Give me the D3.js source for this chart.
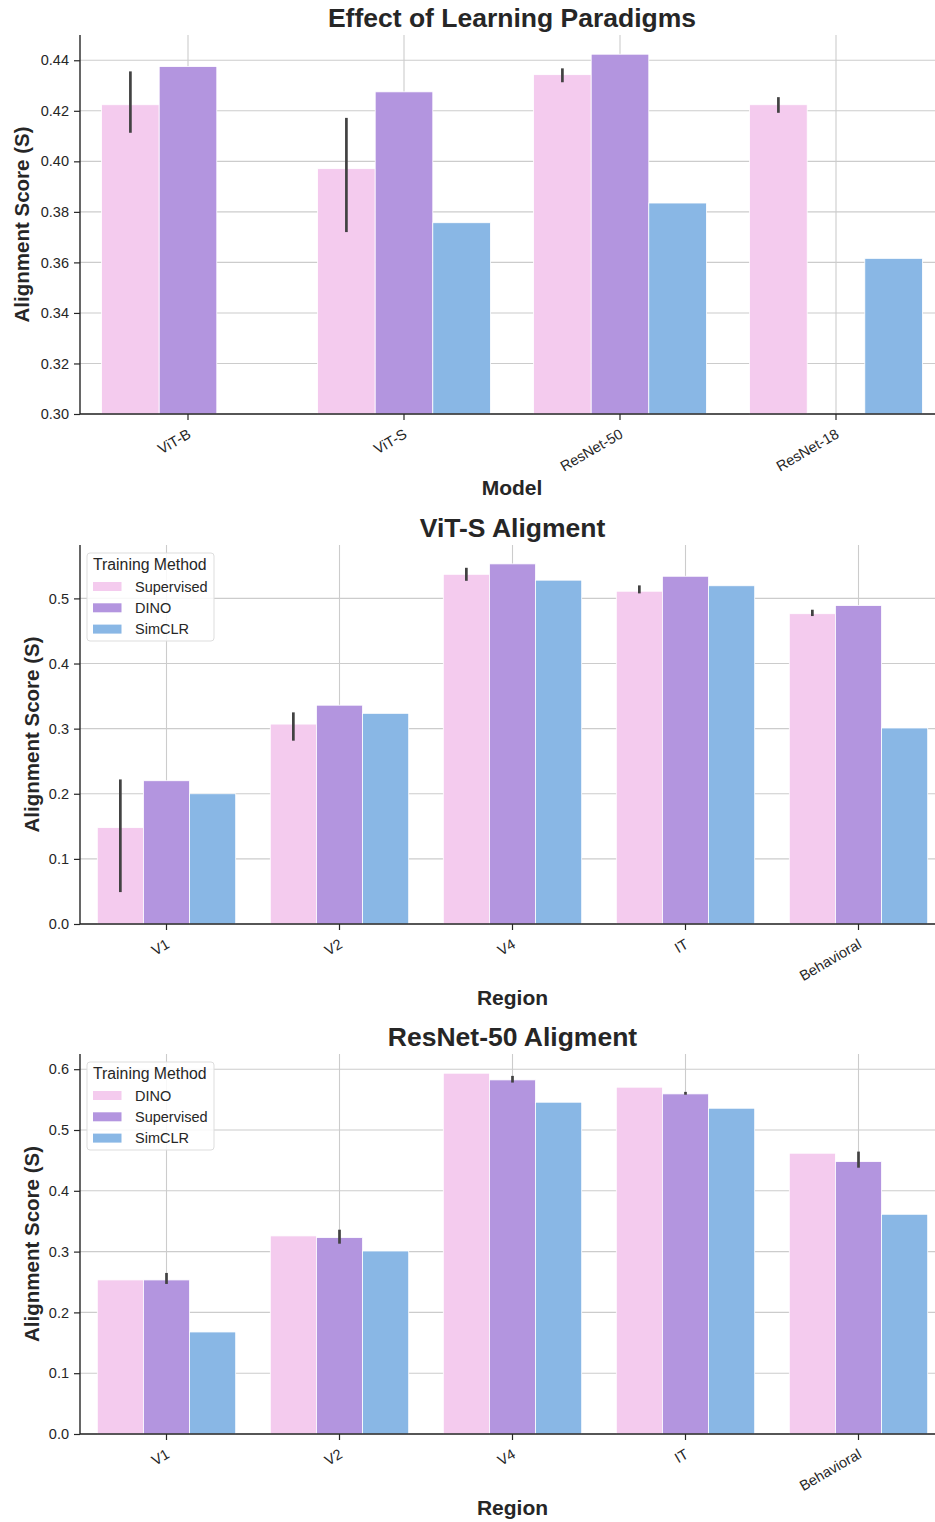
<!DOCTYPE html>
<html>
<head>
<meta charset="utf-8">
<script src="https://cdn.jsdelivr.net/npm/d3@7"></script>
<style>
  html, body { margin: 0; padding: 0; background: #fff; }
  svg { display: block; font-family: "Liberation Sans", Arial, sans-serif; }
</style>
</head>
<body>
<svg id="fig" width="935" height="1522"></svg>
<script>
// ---------- Data ----------
const models = ["ViT-B", "ViT-S", "ResNet-50", "ResNet-18"];
const methods1 = ["Supervised", "DINO", "SimCLR"];
const p1Supervised = [0.4224, 0.3971, 0.4343, 0.4224];
const p1SupErrLow  = [0.4113, 0.3720, 0.4313, 0.4192];
const p1SupErrHigh = [0.4356, 0.4172, 0.4368, 0.4254];
const p1DINO       = [0.4375, 0.4275, 0.4424, null];
const p1SimCLR     = [null, 0.3757, 0.3835, 0.3616];
const p1Ticks = [0.30, 0.32, 0.34, 0.36, 0.38, 0.40, 0.42, 0.44];

const regions = ["V1", "V2", "V4", "IT", "Behavioral"];
const methods2 = ["Supervised", "DINO", "SimCLR"];
const vitsSupervised = [0.148, 0.307, 0.537, 0.511, 0.4765];
const vitsSupErrLow  = [0.049, 0.2815, 0.527, 0.5077, 0.4729];
const vitsSupErrHigh = [0.222, 0.325, 0.547, 0.520, 0.4826];
const vitsDINO       = [0.220, 0.336, 0.553, 0.534, 0.489];
const vitsSimCLR     = [0.200, 0.3235, 0.528, 0.5194, 0.301];
const p2Ticks = [0.0, 0.1, 0.2, 0.3, 0.4, 0.5];

const methods3 = ["DINO", "Supervised", "SimCLR"];
const rn50DINO       = [0.2534, 0.3258, 0.5934, 0.5704, 0.4618];
const rn50Supervised = [0.2534, 0.323, 0.5824, 0.5594, 0.448];
const rn50SupErrLow  = [0.2468, 0.313, 0.578, 0.558, 0.438];
const rn50SupErrHigh = [0.2649, 0.336, 0.589, 0.5627, 0.4645];
const rn50SimCLR     = [0.1678, 0.301, 0.5457, 0.5358, 0.3614];
const p3Ticks = [0.0, 0.1, 0.2, 0.3, 0.4, 0.5, 0.6];

const palette = ["#F4CBEE", "#B395DF", "#89B7E5"];

// ---------- Drawing ----------
const svg = d3.select("#fig");
const textColor = "#262626";
const FONT = "'Liberation Sans', Arial, sans-serif";

function drawPanel(opt) {
  const { top, bottom, left, right, cats, methods, series, errLow, errHigh, errIndex,
          yDomain, ticks, fmt, title, xLabel, yLabelX, legend } = opt;
  const g = svg.append("g");
  const x0 = d3.scaleBand().domain(cats).range([left, right]).padding(0);
  const bw = x0.bandwidth();
  const x1 = d3.scaleBand().domain(methods).range([0.1 * bw, 0.9 * bw]).padding(0);
  const y = d3.scaleLinear().domain(yDomain).range([bottom, top]);

  // grid
  g.append("g").selectAll("line").data(ticks).join("line")
    .attr("x1", left).attr("x2", right)
    .attr("y1", d => y(d)).attr("y2", d => y(d))
    .attr("stroke", "#cccccc").attr("stroke-width", 1.1);
  g.append("g").selectAll("line").data(cats).join("line")
    .attr("x1", d => x0(d) + bw / 2).attr("x2", d => x0(d) + bw / 2)
    .attr("y1", top).attr("y2", bottom)
    .attr("stroke", "#cccccc").attr("stroke-width", 1.1);

  // bars
  methods.forEach((m, mi) => {
    const vals = series[mi];
    const data = cats.map((c, i) => ({ c, v: vals[i] })).filter(d => d.v !== null);
    g.append("g").selectAll("rect").data(data).join("rect")
      .attr("x", d => x0(d.c) + x1(m))
      .attr("width", x1.bandwidth())
      .attr("y", d => y(d.v))
      .attr("height", d => y(yDomain[0]) - y(d.v))
      .attr("fill", palette[mi])
      .attr("stroke", "#ffffff").attr("stroke-width", 0.8);
  });

  // error bars
  const em = methods[errIndex];
  g.append("g").selectAll("line").data(cats.map((c, i) => ({ c, lo: errLow[i], hi: errHigh[i] })))
    .join("line")
    .attr("x1", d => x0(d.c) + x1(em) + x1.bandwidth() / 2)
    .attr("x2", d => x0(d.c) + x1(em) + x1.bandwidth() / 2)
    .attr("y1", d => y(d.lo)).attr("y2", d => y(d.hi))
    .attr("stroke", "#424242").attr("stroke-width", 2.7);

  // axes
  const yAxis = d3.axisLeft(y).tickValues(ticks).tickFormat(d3.format(fmt)).tickSize(6).tickPadding(5);
  const ya = g.append("g").attr("transform", `translate(${left},0)`).call(yAxis);
  ya.attr("font-size", null).attr("font-family", null);
  ya.select(".domain").remove();
  ya.selectAll(".tick line").attr("stroke", textColor).attr("stroke-width", 1.2);
  ya.selectAll(".tick text").attr("fill", textColor).style("font-size", "14.5px")
    .style("font-family", FONT);

  const xAxis = d3.axisBottom(x0).tickSize(6).tickSizeOuter(0);
  const xa = g.append("g").attr("transform", `translate(0,${bottom})`).call(xAxis);
  xa.attr("font-size", null).attr("font-family", null);
  xa.select(".domain").remove();
  xa.selectAll(".tick line").attr("stroke", textColor).attr("stroke-width", 1.2);
  xa.selectAll(".tick text")
    .attr("fill", textColor).style("font-size", "14.5px")
    .style("font-family", FONT)
    .attr("text-anchor", "end")
    .attr("dy", null)
    .attr("y", 0)
    .attr("transform", "translate(4,23) rotate(-30)");

  // spines
  g.append("line").attr("x1", left).attr("x2", left).attr("y1", top).attr("y2", bottom)
    .attr("stroke", textColor).attr("stroke-width", 1.4);
  g.append("line").attr("x1", left).attr("x2", right).attr("y1", bottom).attr("y2", bottom)
    .attr("stroke", textColor).attr("stroke-width", 1.4);

  // title
  g.append("text").attr("x", (left + right) / 2).attr("y", top - 8)
    .attr("text-anchor", "middle").attr("fill", textColor)
    .style("font-size", "26.5px").style("font-weight", "bold").style("font-family", FONT)
    .text(title);

  // x label
  g.append("text").attr("x", (left + right) / 2).attr("y", bottom + 81)
    .attr("text-anchor", "middle").attr("fill", textColor)
    .style("font-size", "21px").style("font-weight", "bold").style("font-family", FONT)
    .text(xLabel);

  // y label
  g.append("text")
    .attr("transform", `translate(${yLabelX},${(top + bottom) / 2}) rotate(-90)`)
    .attr("text-anchor", "middle").attr("dy", "0.35em").attr("fill", textColor)
    .style("font-size", "20.5px").style("font-weight", "bold").style("font-family", FONT)
    .text("Alignment Score (S)");

  // legend
  if (legend) {
    const lx = left + 7, ly = top + 8;
    const lg = g.append("g").attr("transform", `translate(${lx},${ly})`);
    lg.append("rect").attr("x", 0).attr("y", 0).attr("width", 127).attr("height", 88)
      .attr("rx", 3).attr("fill", "#ffffff").attr("fill-opacity", 0.85)
      .attr("stroke", "#dddddd").attr("stroke-width", 1);
    lg.append("text").attr("x", 6).attr("y", 17).attr("fill", textColor)
      .style("font-size", "15.8px").style("font-family", FONT).text("Training Method");
    methods.forEach((m, i) => {
      lg.append("rect").attr("x", 6).attr("y", 29 + i * 21.3).attr("width", 28.5).attr("height", 9)
        .attr("fill", palette[i]);
      lg.append("text").attr("x", 48).attr("y", 38.5 + i * 21.3).attr("fill", textColor)
        .style("font-size", "14.5px").style("font-family", FONT).text(m);
    });
  }
}

drawPanel({
  top: 35, bottom: 414, left: 80, right: 944,
  cats: models, methods: methods1,
  series: [p1Supervised, p1DINO, p1SimCLR],
  errLow: p1SupErrLow, errHigh: p1SupErrHigh, errIndex: 0,
  yDomain: [0.30, 0.45], ticks: p1Ticks, fmt: ".2f",
  title: "Effect of Learning Paradigms", xLabel: "Model", yLabelX: 22, legend: false
});

drawPanel({
  top: 545, bottom: 924, left: 80, right: 945,
  cats: regions, methods: methods2,
  series: [vitsSupervised, vitsDINO, vitsSimCLR],
  errLow: vitsSupErrLow, errHigh: vitsSupErrHigh, errIndex: 0,
  yDomain: [0, 0.582], ticks: p2Ticks, fmt: ".1f",
  title: "ViT-S Aligment", xLabel: "Region", yLabelX: 32, legend: true
});

drawPanel({
  top: 1054, bottom: 1434, left: 80, right: 945,
  cats: regions, methods: methods3,
  series: [rn50DINO, rn50Supervised, rn50SimCLR],
  errLow: rn50SupErrLow, errHigh: rn50SupErrHigh, errIndex: 1,
  yDomain: [0, 0.625], ticks: p3Ticks, fmt: ".1f",
  title: "ResNet-50 Aligment", xLabel: "Region", yLabelX: 32, legend: true
});
</script>
</body>
</html>
